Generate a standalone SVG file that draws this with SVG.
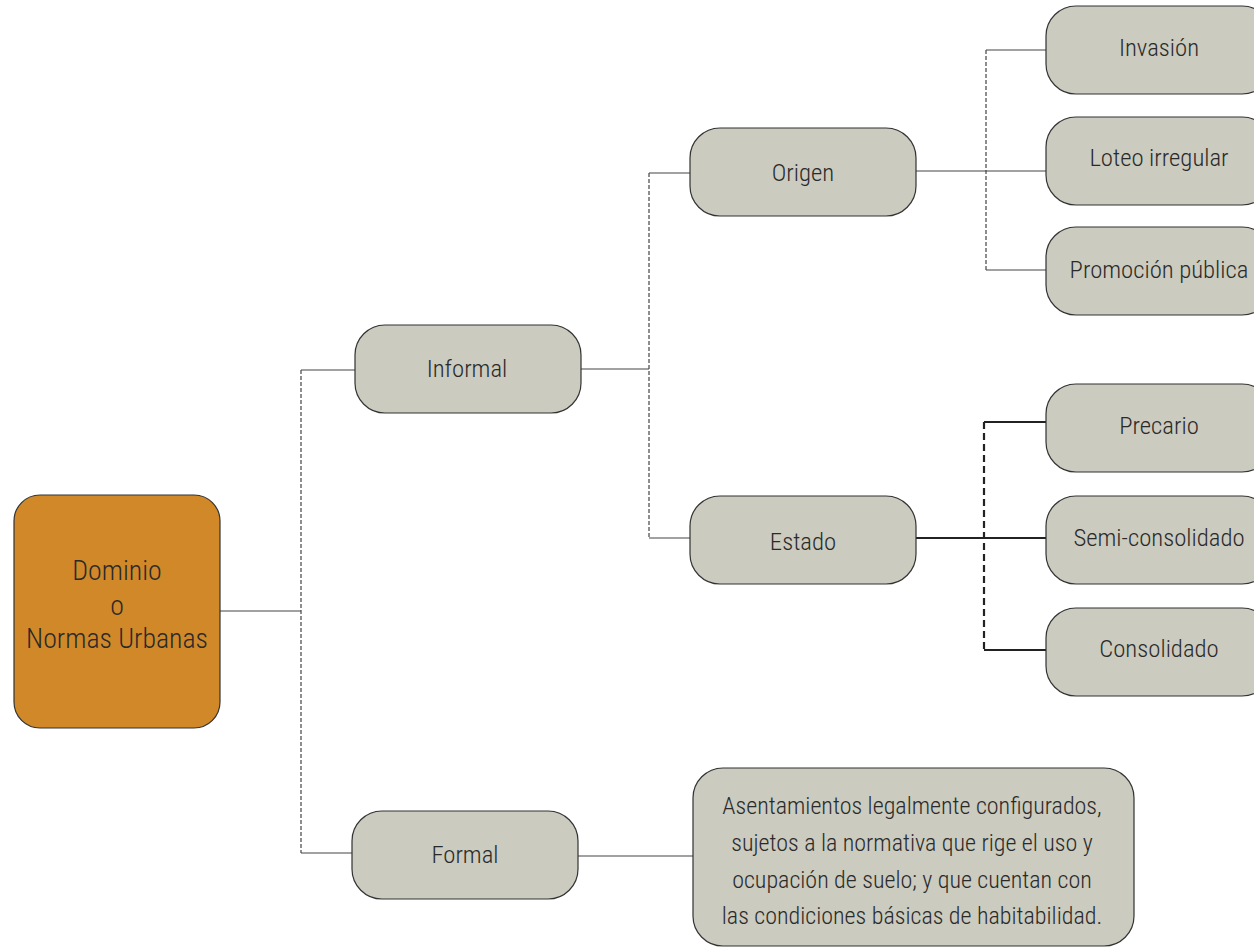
<svg xmlns="http://www.w3.org/2000/svg" width="1254" height="947" viewBox="0 0 1254 947">
<style>
.node{fill:#cbcbbf;stroke:#333;stroke-width:1.2}
.root{fill:#d08828;stroke:#333;stroke-width:1.2}
text{font-family:"Liberation Sans Narrow","Roboto Condensed","Liberation Sans",sans-serif;font-weight:300;fill:#2a2a2a;text-anchor:middle;dominant-baseline:central}
.t{font-size:24.7px}
.tr{font-size:27.8px}
.td{font-size:24px}
.c{stroke:#444;stroke-width:1.2;fill:none}
.cd{stroke:#444;stroke-width:1.2;fill:none;stroke-dasharray:4 2}
.c2{stroke:#222;stroke-width:2.2;fill:none}
.cd2{stroke:#222;stroke-width:2.2;fill:none;stroke-dasharray:7 4}
</style>
<rect width="1254" height="947" fill="#fff"/>
<g id="connectors">
<line class="c" x1="220" y1="611" x2="301" y2="611"/>
<line class="cd" x1="301" y1="370" x2="301" y2="853"/>
<line class="c" x1="301" y1="370" x2="355" y2="370"/>
<line class="c" x1="301" y1="853" x2="352" y2="853"/>
<line class="c" x1="578" y1="856" x2="693" y2="856"/>
<line class="c" x1="581" y1="369" x2="649" y2="369"/>
<line class="cd" x1="649" y1="173" x2="649" y2="538"/>
<line class="c" x1="649" y1="173" x2="690" y2="173"/>
<line class="c" x1="649" y1="538" x2="690" y2="538"/>
<line class="c" x1="916" y1="171" x2="1046" y2="171"/>
<line class="cd" x1="986" y1="50" x2="986" y2="270"/>
<line class="c" x1="986" y1="50" x2="1046" y2="50"/>
<line class="c" x1="986" y1="270" x2="1046" y2="270"/>
<line class="c2" x1="916" y1="538" x2="1046" y2="538"/>
<line class="cd2" x1="984" y1="422" x2="984" y2="650"/>
<line class="c2" x1="984" y1="422" x2="1046" y2="422"/>
<line class="c2" x1="984" y1="650" x2="1046" y2="650"/>
</g>
<g id="root"><rect class="root" x="14" y="495" width="206" height="233" rx="26"/>
<text class="tr" x="117" y="570">Dominio</text><text class="tr" x="117" y="605">o</text><text class="tr" x="117" y="638">Normas Urbanas</text></g>
<g id="informal"><rect class="node" x="355" y="325" width="226" height="88" rx="30"/><text class="t" x="467" y="368">Informal</text></g>
<g id="formal"><rect class="node" x="352" y="811" width="226" height="88" rx="30"/><text class="t" x="465" y="854">Formal</text></g>
<g id="origen"><rect class="node" x="690" y="128" width="226" height="88" rx="30"/><text class="t" x="803" y="172">Origen</text></g>
<g id="estado"><rect class="node" x="690" y="496" width="226" height="88" rx="30"/><text class="t" x="803" y="541">Estado</text></g>
<g id="invasion"><rect class="node" x="1046" y="6" width="226" height="88" rx="30"/><text class="t" x="1159" y="47">Invasión</text></g>
<g id="loteo"><rect class="node" x="1046" y="117" width="226" height="88" rx="30"/><text class="t" x="1159" y="157">Loteo irregular</text></g>
<g id="promocion"><rect class="node" x="1046" y="227" width="226" height="88" rx="30"/><text class="t" x="1159" y="269">Promoción pública</text></g>
<g id="precario"><rect class="node" x="1046" y="384" width="226" height="88" rx="30"/><text class="t" x="1159" y="425">Precario</text></g>
<g id="semi"><rect class="node" x="1046" y="496" width="226" height="88" rx="30"/><text class="t" x="1159" y="537">Semi-consolidado</text></g>
<g id="consolidado"><rect class="node" x="1046" y="608" width="226" height="88" rx="30"/><text class="t" x="1159" y="648">Consolidado</text></g>
<g id="descripcion"><rect class="node" x="693" y="768" width="441" height="178" rx="30"/>
<text class="td" x="912" y="806">Asentamientos legalmente configurados,</text>
<text class="td" x="912" y="843">sujetos a la normativa que rige el uso y</text>
<text class="td" x="912" y="880">ocupación de suelo; y que cuentan con</text>
<text class="td" x="912" y="916">las condiciones básicas de habitabilidad.</text></g>
</svg>
